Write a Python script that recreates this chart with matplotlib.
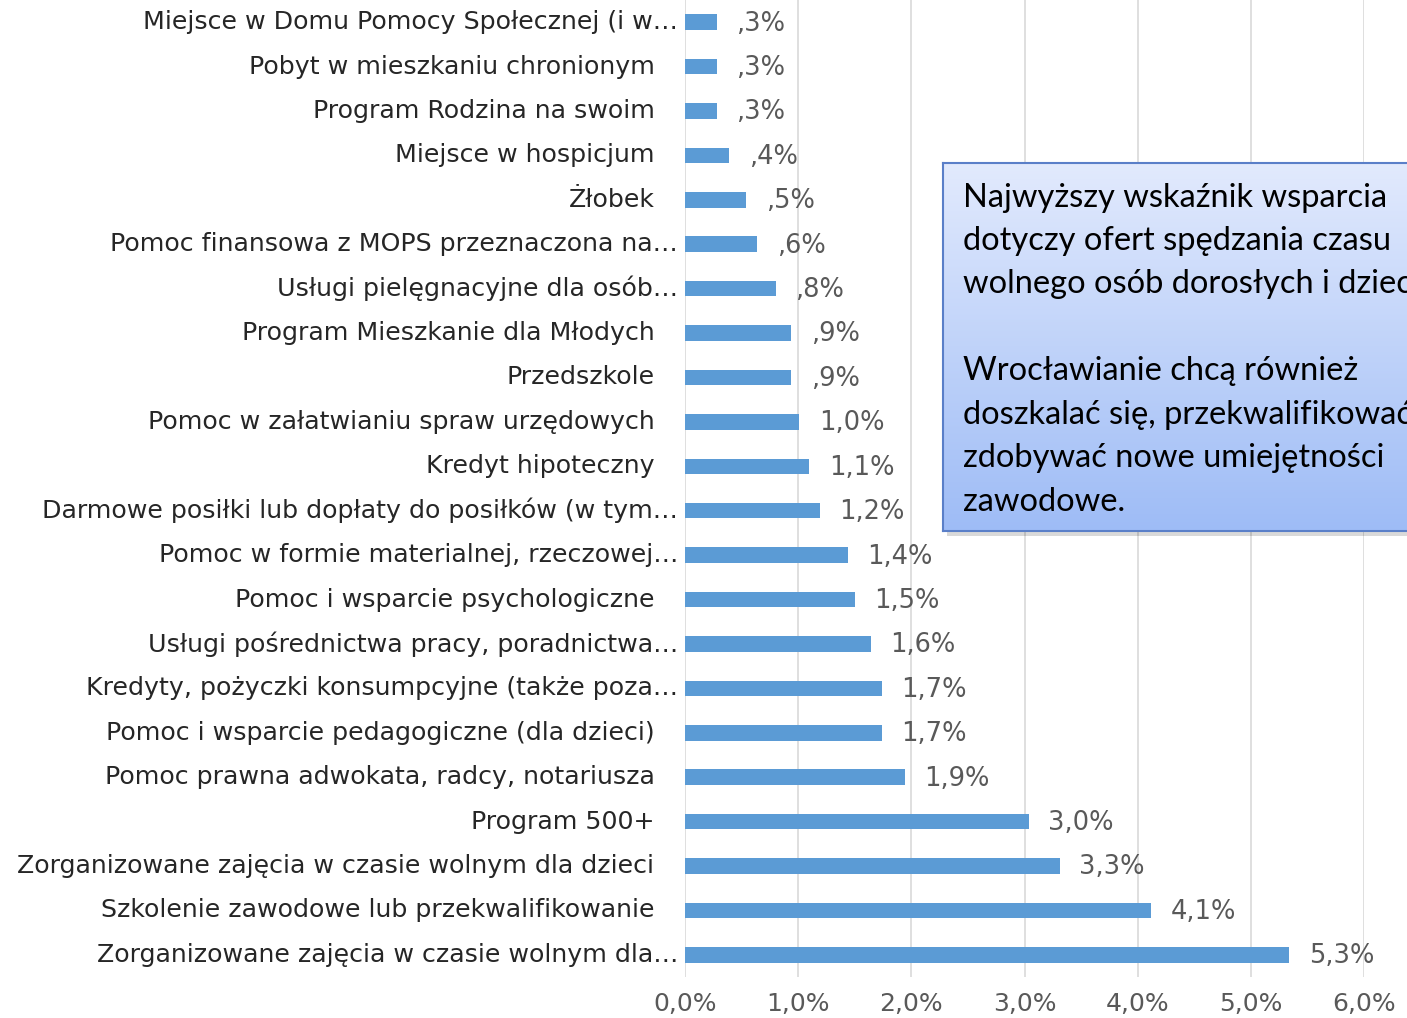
import numpy as np
import matplotlib
matplotlib.use("Agg")
from matplotlib import pyplot as plt
from matplotlib.patches import Rectangle

# data, top to bottom as in the chart
categories = [
    "Miejsce w Domu Pomocy Społecznej (i w…",
    "Pobyt w mieszkaniu chronionym",
    "Program Rodzina na swoim",
    "Miejsce w hospicjum",
    "Żłobek",
    "Pomoc finansowa z MOPS przeznaczona na…",
    "Usługi pielęgnacyjne dla osób…",
    "Program Mieszkanie dla Młodych",
    "Przedszkole",
    "Pomoc w załatwianiu spraw urzędowych",
    "Kredyt hipoteczny",
    "Darmowe posiłki lub dopłaty do posiłków (w tym…",
    "Pomoc w formie materialnej, rzeczowej…",
    "Pomoc i wsparcie psychologiczne",
    "Usługi pośrednictwa pracy, poradnictwa…",
    "Kredyty, pożyczki konsumpcyjne (także poza…",
    "Pomoc i wsparcie pedagogiczne (dla dzieci)",
    "Pomoc prawna adwokata, radcy, notariusza",
    "Program 500+",
    "Zorganizowane zajęcia w czasie wolnym dla dzieci",
    "Szkolenie zawodowe lub przekwalifikowanie",
    "Zorganizowane zajęcia w czasie wolnym dla…",
]
values = [0.28, 0.28, 0.28, 0.39, 0.54, 0.64, 0.80, 0.94, 0.94, 1.01, 1.10,
          1.19, 1.44, 1.50, 1.64, 1.74, 1.74, 1.94, 3.04, 3.31, 4.12, 5.34]
xticks = [0, 1, 2, 3, 4, 5, 6]

note = ("Najwyższy wskaźnik wsparcia\n"
        "dotyczy ofert spędzania czasu\n"
        "wolnego osób dorosłych i dzieci\n"
        "\n"
        "Wrocławianie chcą również\n"
        "doszkalać się, przekwalifikować,\n"
        "zdobywać nowe umiejętności\n"
        "zawodowe.")


def pct(v):
    s = f"{v:.1f}".replace(".", ",")
    if s.startswith("0,"):
        s = s[1:]
    return s + "%"


W, H = 1407, 1018
fig = plt.figure(figsize=(W / 100, H / 100), dpi=100)
fig.patch.set_facecolor("white")

ax = fig.add_axes([685 / W, 1 - 977 / H, (1364 - 685) / W, 977 / H])
n = len(categories)
y = np.arange(n)
ax.barh(y, values, height=0.35, color="#5B9BD5", zorder=3)
ax.set_ylim(n - 0.5, -0.5)
ax.set_xlim(0, 6)

ax.set_xticks(xticks)
ax.set_xticklabels([f"{t},0%" for t in xticks], fontsize=18, color="#595959",
                   family="DejaVu Sans")
ax.tick_params(axis="x", length=0, pad=11)
ax.set_yticks([])
ax.grid(axis="x", color="#D9D9D9", linewidth=1.2, zorder=0)
for s in ax.spines.values():
    s.set_visible(False)

for i, (lab, v) in enumerate(zip(categories, values)):
    pad = 5 if lab.endswith("…") else 22
    ax.annotate(lab, xy=(0, i), xycoords=("axes fraction", "data"),
                xytext=(-pad, 0), textcoords="offset points",
                ha="right", va="center", fontsize=18.2, color="#262626",
                family="DejaVu Sans")
    ax.annotate(pct(v), xy=(v, i), xycoords="data",
                xytext=(14, -1), textcoords="offset points",
                ha="left", va="center", fontsize=18.5, color="#595959",
                family="DejaVu Sans")

# note box (runs off the right edge like the original)
bx, by, bw, bh = 943 / W, 1 - 531 / H, 520 / W, (531 - 163) / H
fig.patches.append(Rectangle((bx + 4 / W, by - 5 / H), bw, bh,
                             transform=fig.transFigure, facecolor="#000000",
                             alpha=0.15, edgecolor="none", zorder=4))
bax = fig.add_axes([bx, by, bw, bh], zorder=5)
top = np.array([226, 234, 253]) / 255
bot = np.array([158, 188, 246]) / 255
t = np.linspace(0, 1, 256)[:, None]
grad = (top[None, :] * (1 - t) + bot[None, :] * t)[:, None, :]
bax.imshow(grad, aspect="auto", extent=[0, 1, 0, 1])
bax.set_xticks([])
bax.set_yticks([])
for s in bax.spines.values():
    s.set_color("#5A7FC8")
    s.set_linewidth(1.5)
bax.text(20 / 520, 0.947, note, transform=bax.transAxes, ha="left", va="top",
         fontsize=23.5, family="Lato", color="black", linespacing=1.56)

fig.savefig("out.png", dpi=100)
